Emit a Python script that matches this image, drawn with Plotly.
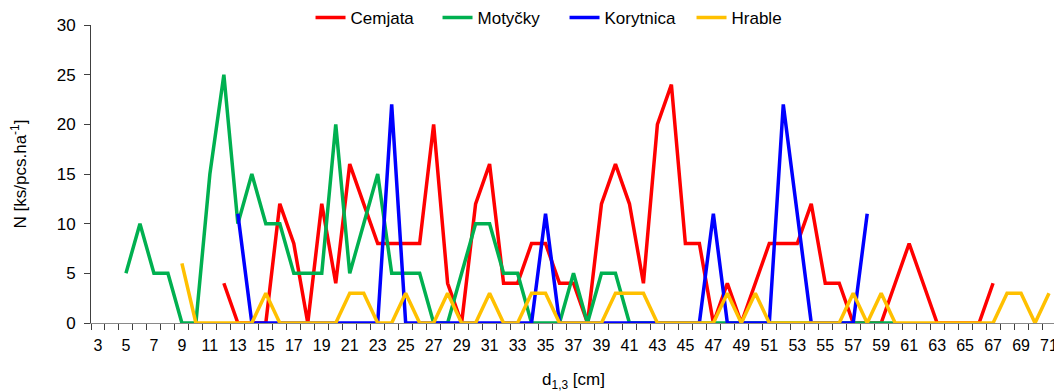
import plotly.graph_objects as go

categories = list(range(3, 72))

# values keyed by diameter class (cm)
cemjata_x = list(range(12, 68))
cemjata_y = [4, 0, 0, 0, 12, 8, 0, 12, 4, 16, 12, 8, 8, 8, 8, 20, 4, 0, 12, 16,
             4, 4, 8, 8, 4, 4, 0, 12, 16, 12, 4, 20, 24, 8, 8, 0, 4, 0, 4, 8,
             8, 8, 12, 4, 4, 0, 0, 0, 4, 8, 4, 0, 0, 0, 0, 4]

motycky_x = list(range(5, 61))
motycky_y = [5, 10, 5, 5, 0, 0, 15, 25, 10, 15, 10, 10, 5, 5, 5, 20, 5, 10, 15, 5,
             5, 5, 0, 0, 5, 10, 10, 5, 5, 0, 0, 0, 5, 0, 5, 5, 0, 0, 0, 0,
             0, 0, 0, 0, 0, 0, 0, 0, 0, 0, 0, 0, 0, 0, 0, 0]

korytnica_x = list(range(13, 59))
korytnica_y = [11, 0, 0, 0, 0, 0, 0, 0, 0, 0, 0, 22, 0, 0, 0, 0, 0, 0, 0, 0,
               0, 0, 11, 0, 0, 0, 0, 0, 0, 0, 0, 0, 0, 0, 11, 0, 0, 0, 0, 22,
               11, 0, 0, 0, 0, 11]

hrable_x = list(range(9, 72))
hrable_y = [6, 0, 0, 0, 0, 0, 3, 0, 0, 0, 0, 0, 3, 3, 0, 0, 3, 0, 0, 3,
            0, 0, 3, 0, 0, 3, 3, 0, 0, 0, 0, 3, 3, 3, 0, 0, 0, 0, 0, 3,
            0, 3, 0, 0, 0, 0, 0, 0, 3, 0, 3, 0, 0, 0, 0, 0, 0, 0, 0, 3,
            3, 0, 3]

series = [
    ("Cemjata", cemjata_x, cemjata_y, "#FF0000"),
    ("Motyčky", motycky_x, motycky_y, "#00B050"),
    ("Korytnica", korytnica_x, korytnica_y, "#0000FF"),
    ("Hrable", hrable_x, hrable_y, "#FFC000"),
]

tick_labels = [str(c) for c in categories if c % 2 == 1]
tick_vals = [c for c in categories if c % 2 == 1]

FONT = "Liberation Sans, Arial, sans-serif"

fig = go.Figure()
for name, xs, ys, col in series:
    fig.add_trace(go.Scatter(x=xs, y=ys, name=name, mode="lines",
                             line=dict(color=col, width=3.5)))

# page body has an 8px default margin, so the figure is 8px smaller each way
fig.update_layout(
    width=1054, height=384,
    margin=dict(l=83, r=6, t=17, b=69, autoexpand=False),
    paper_bgcolor="white", plot_bgcolor="white",
    font=dict(family=FONT, size=17, color="#000000"),
    legend=dict(orientation="h", x=0.4907, xanchor="center", y=1.0235, yanchor="middle",
                font=dict(size=17), bgcolor="rgba(0,0,0,0)", tracegroupgap=0,
                entrywidth=82, entrywidthmode="pixels"),
    showlegend=True,
)
fig.update_xaxes(
    range=[categories[0] - 0.5, categories[-1] + 0.5],
    tickmode="array", tickvals=tick_vals, ticktext=tick_labels,
    ticks="", showgrid=False, zeroline=False, automargin=False,
    showline=True, linecolor="#898989", linewidth=1,
    tickfont=dict(size=16),
    ticklabelstandoff=8,
    minor=dict(ticks="outside", tick0=2.5, dtick=1, ticklen=6, tickcolor="#404040",
               showgrid=False),
    title=dict(text="d<sub>1,3</sub> [cm]", font=dict(size=17), standoff=22),
)
fig.update_yaxes(
    range=[0, 30], tickmode="array", tickvals=[0, 5, 10, 15, 20, 25, 30],
    ticks="outside", ticklen=6, tickcolor="#404040",
    showgrid=False, zeroline=False, automargin=False,
    showline=True, linecolor="#404040", linewidth=1,
    tickfont=dict(size=17), ticklabelstandoff=5,
    title=dict(text="N [ks/pcs.ha<sup>-1</sup>]", font=dict(size=17), standoff=27),
)

fig.write_html("out.html")
